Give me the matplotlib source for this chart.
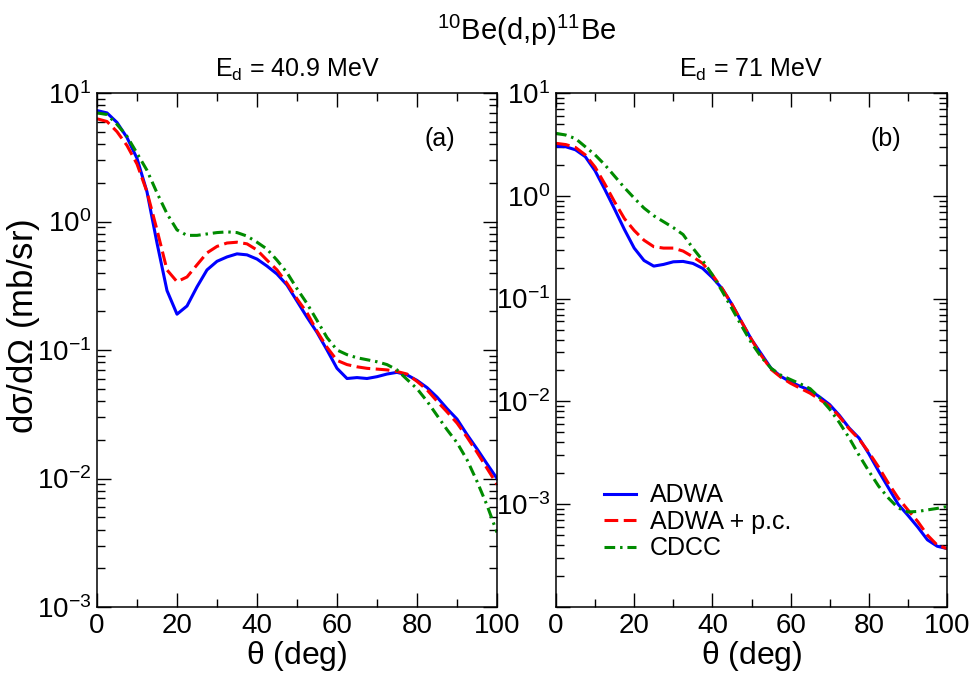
import numpy as np
import matplotlib
matplotlib.use("Agg")
import matplotlib.pyplot as plt
from matplotlib.ticker import LogLocator, FixedLocator, NullFormatter, FuncFormatter

plt.rcParams['font.family'] = ['Liberation Sans', 'DejaVu Sans']
plt.rcParams['mathtext.fontset'] = 'custom'
plt.rcParams['mathtext.rm'] = 'Liberation Sans'
plt.rcParams['mathtext.it'] = 'Liberation Sans:italic'

# scattering angle grid (deg), shared by all curves
theta = np.arange(0, 100.1, 2.5)

# (a) E_d = 40.9 MeV
adwa_a = [7.3, 7.0, 5.9, 4.5, 3.1, 1.7, 0.68, 0.29, 0.19, 0.22, 0.31, 0.42, 0.49, 0.53,
          0.56, 0.55, 0.51, 0.45, 0.39, 0.32, 0.24, 0.18, 0.137, 0.10, 0.072, 0.060,
          0.061, 0.060, 0.062, 0.065, 0.067, 0.064, 0.058, 0.051, 0.043, 0.035, 0.029,
          0.022, 0.017, 0.013, 0.0100]
adwa_pc_a = [6.3, 6.0, 5.0, 3.9, 2.8, 1.7, 0.86, 0.42, 0.34, 0.37, 0.46, 0.57, 0.64, 0.68,
             0.69, 0.67, 0.60, 0.50, 0.42, 0.33, 0.25, 0.195, 0.14, 0.105, 0.083, 0.077,
             0.074, 0.072, 0.071, 0.070, 0.068, 0.065, 0.057, 0.049, 0.040, 0.033, 0.027,
             0.021, 0.016, 0.012, 0.0090]
cdcc_a = [7.0, 6.8, 5.7, 4.6, 3.4, 2.5, 1.67, 1.15, 0.86, 0.78, 0.78, 0.80, 0.82, 0.83,
          0.82, 0.77, 0.69, 0.61, 0.50, 0.40, 0.30, 0.23, 0.17, 0.125, 0.100, 0.092,
          0.087, 0.084, 0.081, 0.077, 0.070, 0.059, 0.050, 0.040, 0.031, 0.024, 0.019,
          0.014, 0.0095, 0.0062, 0.0038]

# (b) E_d = 71 MeV
adwa_b = [3.04, 3.0, 2.8, 2.4, 1.75, 1.15, 0.74, 0.47, 0.31, 0.235, 0.207, 0.215, 0.228,
          0.230, 0.22, 0.197, 0.16, 0.125, 0.088, 0.059, 0.040, 0.029, 0.021, 0.0175,
          0.0155, 0.0140, 0.0128, 0.0110, 0.0093, 0.0073, 0.0055, 0.0044, 0.0031, 0.0021,
          0.00145, 0.00100, 0.00078, 0.00060, 0.00045, 0.00039, 0.00037]
adwa_pc_b = [3.24, 3.15, 2.95, 2.5, 1.9, 1.3, 0.87, 0.60, 0.46, 0.37, 0.32, 0.31, 0.31,
             0.29, 0.255, 0.22, 0.17, 0.125, 0.088, 0.059, 0.040, 0.028, 0.0205, 0.0172,
             0.015, 0.0134, 0.0120, 0.0104, 0.0090, 0.0071, 0.0054, 0.0043, 0.0032, 0.0023,
             0.0016, 0.00115, 0.00088, 0.00068, 0.00050, 0.00040, 0.00037]
cdcc_b = [4.05, 3.9, 3.6, 3.0, 2.5, 2.0, 1.55, 1.2, 0.95, 0.76, 0.64, 0.56, 0.49, 0.42,
          0.31, 0.235, 0.17, 0.118, 0.080, 0.054, 0.037, 0.027, 0.021, 0.018, 0.0163,
          0.0148, 0.0133, 0.0108, 0.0084, 0.0062, 0.0044, 0.0030, 0.0021, 0.0015, 0.00115,
          0.00092, 0.00084, 0.00085, 0.00088, 0.00091, 0.00095]

labels = ['ADWA', 'ADWA + p.c.', 'CDCC']
subtitles = [r'E$_\mathregular{d}$ = 40.9 MeV', r'E$_\mathregular{d}$ = 71 MeV']
panel_tags = ['(a)', '(b)']
ylims = [(1e-3, 1e1), (1e-4, 1e1)]

W, H = 972, 677
fig = plt.figure(figsize=(W / 100, H / 100), dpi=100)

def box(x0, x1, top, bottom):
    return [x0 / W, 1 - bottom / H, (x1 - x0) / W, (bottom - top) / H]

axes = [fig.add_axes(box(97, 497, 93, 607)), fig.add_axes(box(556, 947, 93, 607))]
data = [(adwa_a, adwa_pc_a, cdcc_a), (adwa_b, adwa_pc_b, cdcc_b)]

lw = 2.2
for i, ax in enumerate(axes):
    blue, red, green = data[i]
    ax.plot(theta, blue, color='#0000ff', lw=lw, label=labels[0])
    ax.plot(theta, red, color='#ff0000', lw=lw, dashes=(4.5, 1.8), label=labels[1])
    ax.plot(theta, green, color='#008b00', lw=lw, dashes=(3.5, 1.6, 0.8, 1.6), label=labels[2])

    ax.set_yscale('log')
    ax.set_xlim(0, 100)
    ax.set_ylim(*ylims[i])
    ax.xaxis.set_major_locator(FixedLocator(np.arange(0, 101, 20)))
    ax.xaxis.set_minor_locator(FixedLocator(np.arange(10, 100, 20)))
    ax.yaxis.set_major_locator(LogLocator(base=10, numticks=20))
    ax.yaxis.set_minor_locator(LogLocator(base=10, subs=np.arange(2, 10), numticks=20))
    ax.yaxis.set_minor_formatter(NullFormatter())
    lo = ylims[i][0]
    ax.yaxis.set_major_formatter(FuncFormatter(
        lambda v, pos, lo=lo, i=i: '' if (i == 1 and np.isclose(v, lo))
        else r'$\mathregular{10^{%d}}$' % round(np.log10(v))))

    ax.tick_params(which='both', direction='in', top=True, right=True, labelsize=20, width=1.0)
    ax.tick_params(which='major', length=10, pad=4)
    ax.tick_params(which='minor', length=5.5)
    for s in ax.spines.values():
        s.set_linewidth(1.1)

    ax.text(0.857 if i == 0 else 0.843, 0.91, panel_tags[i], transform=ax.transAxes,
            fontsize=18, ha='center', va='center')
    ax.set_xlabel(r'$\mathregular{\theta}$ (deg)', fontsize=23, labelpad=0)

fig.text(297 / W, 1 - 70 / H, subtitles[0], fontsize=18, ha='center', va='center')
fig.text(751 / W, 1 - 70 / H, subtitles[1], fontsize=18, ha='center', va='center')
fig.text(527 / W, 1 - 30 / H, r'$\mathregular{^{10}}$Be(d,p)$\mathregular{^{11}}$Be',
         fontsize=21, ha='center', va='center')
fig.text(24 / W, 1 - 326 / H, r'd$\mathregular{\sigma}$/d$\mathregular{\Omega}$ (mb/sr)',
         fontsize=25, rotation=90, ha='center', va='center')

axes[1].legend(loc='upper left', bbox_to_anchor=(0.09, 0.265), frameon=False, fontsize=18,
               handlelength=1.3, handletextpad=0.55, labelspacing=0.1, borderpad=0)

fig.savefig('out.png', dpi=100)
